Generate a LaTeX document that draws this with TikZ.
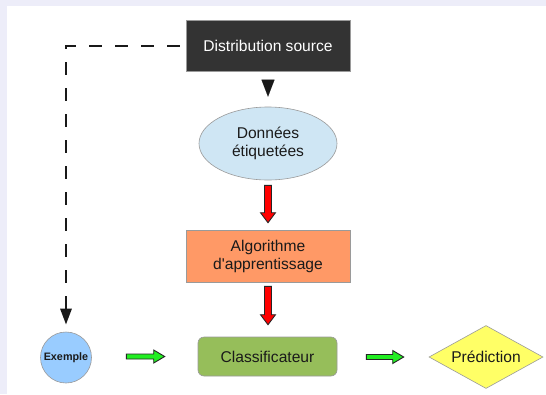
\documentclass[tikz,border=0pt]{standalone}
\usepackage{fontspec}
\setmainfont{Liberation Sans}[Ligatures=TeXOff]
\usetikzlibrary{shapes.geometric,arrows.meta,calc}
\definecolor{dsgray}{HTML}{333333}
\definecolor{bordergray}{HTML}{9A9A9A}
\definecolor{ellblue}{HTML}{CFE6F4}
\definecolor{algorange}{HTML}{FF9966}
\definecolor{clsgreen}{HTML}{96BE5A}
\definecolor{exblue}{HTML}{99CCFF}
\definecolor{predyellow}{HTML}{FFFF66}
\definecolor{lav}{HTML}{EDEDF9}
\definecolor{arrgreen}{HTML}{22EE22}
\definecolor{txt}{HTML}{1A1A1A}
\newcommand\vblockarrow[5]{\path[blockarr,fill=#1] let \p1=(#2), \p2=(#3) in
  (\x1-3.5pt,\y1-#4) -- (\x1-3.5pt,\y2+#5+10pt) -- (\x1-7.5pt,\y2+#5+10pt) -- (\x1,\y2+#5)
  -- (\x1+7.5pt,\y2+#5+10pt) -- (\x1+3.5pt,\y2+#5+10pt) -- (\x1+3.5pt,\y1-#4) -- cycle;}
\newcommand\hblockarrow[5]{\path[blockarr,fill=#1] let \p1=(#2), \p2=(#3) in
  (\x1+#4,\y2+2.5pt) -- (\x2-#5-11pt,\y2+2.5pt) -- (\x2-#5-11pt,\y2+6.5pt) -- (\x2-#5,\y2)
  -- (\x2-#5-11pt,\y2-6.5pt) -- (\x2-#5-11pt,\y2-2.5pt) -- (\x1+#4,\y2-2.5pt) -- cycle;}
\begin{document}
\begin{tikzpicture}[x=1pt,y=-1pt,
  box/.style={draw=bordergray, line width=0.6pt, inner sep=0pt, text=txt, align=center,
    font=\fontsize{15.6}{18}\selectfont},
  blockarr/.style={draw=black!85, line width=0.9pt, line join=miter},
  dashconn/.style={draw=black!90, line width=2.8pt, dash pattern=on 13pt off 13pt, dash phase=20pt,
    -{Triangle[length=16pt,width=11pt]}, shorten >=7pt},
  headonly/.style={draw=black!90, line width=0.1pt, -{Triangle[length=17pt,width=13pt]}}]
\useasboundingbox (0,0) rectangle (546,394);
\fill[white] (0,0) rectangle (546,394);
\fill[lav] (0,0) rectangle (546,6);
\fill[lav] (0,0) rectangle (7,394);

\node[box, rectangle, fill=dsgray, text=white, minimum width=164pt, minimum height=51pt] (ds) at (268,46) {Distribution source};
\node[box, ellipse, fill=ellblue, minimum width=138pt, minimum height=73pt] (don) at (268,143.5) {Données\\étiquetées};
\node[box, rectangle, fill=algorange, minimum width=164pt, minimum height=52pt] (alg) at (268,256) {Algorithme\\d'apprentissage};
\node[box, rectangle, rounded corners=6pt, fill=clsgreen, minimum width=139pt, minimum height=39pt] (cls) at (267.5,356.5) {Classificateur};
\node[box, circle, fill=exblue, minimum size=51pt, font=\fontsize{10.8}{12}\selectfont\bfseries] (exm) at (66,357.5) {Exemple};
\node[box, diamond, aspect=1.8, fill=predyellow, minimum width=114pt, minimum height=63pt] (pred) at (486,357) {Prédiction};

\draw[headonly, shorten <=8.5pt, shorten >=10pt] (ds.south) -- (don.north);
\draw[dashconn] (ds.west) -| (exm.north);
\vblockarrow{red}{don.south}{alg.north}{5pt}{7pt}
\vblockarrow{red}{alg.south}{cls.north}{4pt}{12pt}
\hblockarrow{arrgreen}{exm.east}{cls.west}{34.5pt}{33pt}
\hblockarrow{arrgreen}{cls.east}{pred.west}{29pt}{25pt}
\end{tikzpicture}
\end{document}
